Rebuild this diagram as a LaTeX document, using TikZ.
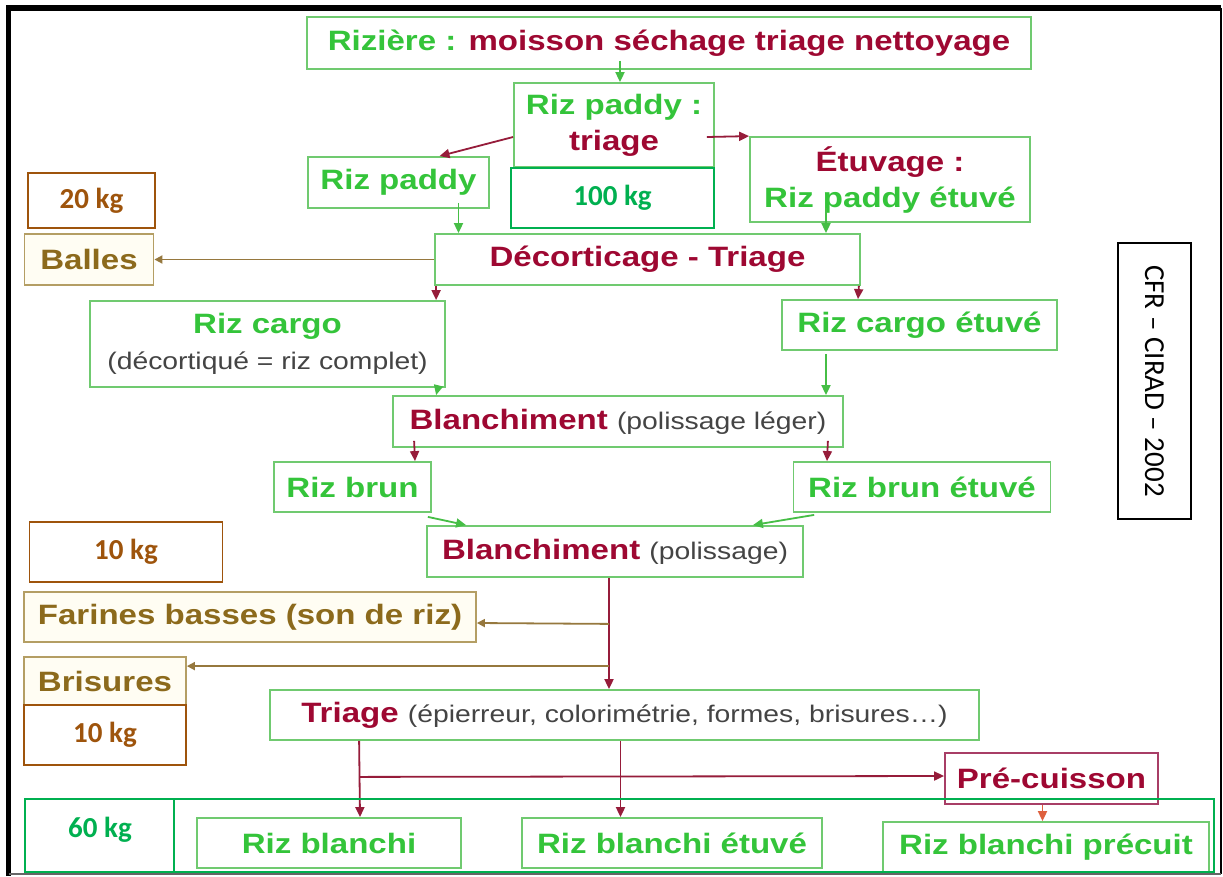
\documentclass[tikz,border=0pt]{standalone}
\usepackage{fontspec}
\setmainfont{Liberation Sans}
\newfontfamily\arw{Liberation Sans}[FakeStretch=1.18]
\newfontfamily\calb{Carlito}
\usetikzlibrary{arrows.meta,calc}

% palette
\definecolor{gT}{RGB}{52,196,58}
\definecolor{dR}{RGB}{158,8,50}
\definecolor{grT}{RGB}{68,68,68}
\definecolor{olT}{RGB}{140,106,28}
\definecolor{boxG}{RGB}{112,202,112}
\definecolor{boxO}{RGB}{180,158,100}
\definecolor{boxP}{RGB}{168,62,102}
\definecolor{kgB}{RGB}{158,84,12}
\definecolor{kgG}{RGB}{0,176,80}
\definecolor{arG}{RGB}{70,190,70}
\definecolor{arR}{RGB}{150,28,58}
\definecolor{arB}{RGB}{150,120,62}
\definecolor{arO}{RGB}{222,96,62}
\definecolor{fillO}{RGB}{255,253,243}

\newcommand\bigfont{\arw\bfseries\fontsize{28}{36}\selectfont}
\newcommand\smallgray[1]{{\arw\mdseries\fontsize{24}{30}\selectfont\color{grT}#1}}

\begin{document}
\begin{tikzpicture}[x=1pt,y=-1pt,
  sz/.style 2 args={minimum width=#1pt, minimum height=#2pt},
  box/.style={draw=boxG, line width=1.8pt, fill=white, inner sep=0pt,
    rectangle, align=center, font=\bigfont, text=gT},
  rbox/.style={box, text=dR},
  obox/.style={box, draw=boxO, fill=fillO, text=olT},
  pbox/.style={box, draw=boxP, text=dR},
  kgbox/.style={draw=kgB, line width=1.8pt, fill=white, inner sep=0pt,
    rectangle, text=kgB, font=\calb\bfseries\fontsize{29}{30}\selectfont},
  kggbox/.style={kgbox, draw=kgG, text=kgG},
  arr/.style={line width=1.8pt, -{Triangle[length=10pt,width=9pt]}},
  garr/.style={arr, draw=arG},
  rarr/.style={arr, draw=arR},
  barr/.style={arr, draw=arB, -{Triangle[length=8pt,width=8pt]}},
  oarr/.style={arr, draw=arO}
]
\useasboundingbox (0,0) rectangle (1223,876);
\fill[white] (0,0) rectangle (1223,876);

% outer frame
\draw[line width=5.5pt] (8.5,876) -- (8.5,8) -- (1221,8);
\draw[line width=2pt] (1220.5,8) -- (1220.5,874);
\draw[line width=2pt, black!60] (8.5,874) -- (1221,874);

% process boxes
\node[rbox, sz={724}{52}] (riziere) at (669,43)
  {{\color{gT}Rizière :} moisson séchage triage nettoyage};
\node[rbox, sz={200}{84}] (paddyT) at (614,125)
  {{\color{gT}Riz paddy :}\\triage};
\node[kggbox, sz={203}{60}] (kg100) at (612.5,198) {100 kg};
\node[box, sz={181}{51}] (paddy) at (398.5,182.5) {Riz paddy};
\node[rbox, sz={280}{85}] (etuvage) at (890,179.5)
  {Étuvage :\\{\color{gT}Riz paddy étuvé}};
\node[kgbox, sz={127}{55}] (kg20) at (91.5,200.5) {20 kg};
\node[obox, sz={129}{51}] (balles) at (89,259.5) {Balles};
\node[rbox, sz={425}{51}] (decort) at (647.5,259.5) {Décorticage - Triage};
\node[box, sz={355}{86}] (cargo) at (267.5,344)
  {Riz cargo\\\smallgray{(décortiqué = riz complet)}};
\node[box, sz={275}{50}] (cargoEt) at (919.5,325) {Riz cargo étuvé};
\node[rbox, sz={450}{51}] (blanchA) at (618,421.5)
  {Blanchiment \smallgray{(polissage léger)}};
\node[box, sz={157}{50}] (brun) at (352.5,487) {Riz brun};
\node[box, sz={257}{50}] (brunEt) at (922,487) {Riz brun étuvé};
\node[kgbox, sz={193}{60}] (kg10a) at (126,552) {10 kg};
\node[rbox, sz={376}{51}] (blanchB) at (615,551.5)
  {Blanchiment \smallgray{(polissage)}};
\node[obox, sz={452}{50}] (farines) at (250,617) {Farines basses (son de riz)};
\node[obox, sz={162}{48}] (brisures) at (105,681) {Brisures};
\node[kgbox, sz={162}{60}] (kg10b) at (105,735) {10 kg};
\node[rbox, sz={709}{50}] (triage) at (624.5,715)
  {Triage \smallgray{(épierreur, colorimétrie, formes, brisures…)}};
\node[pbox, sz={213}{51}] (precuis) at (1051.5,778.5) {Pré-cuisson};
\node[box, sz={264}{50}] (blanchi) at (329,843) {Riz blanchi};
\node[box, sz={300}{50}] (blanchiEt) at (672,843) {Riz blanchi étuvé};
\node[box, sz={326}{50}] (precuit) at (1046,847) {Riz blanchi précuit};

% source label
\node[draw=black, line width=1.6pt, inner sep=0pt, sz={73}{276}] (cfr) at (1154.5,381) {};
\node[rotate=-90, font=\calb\fontsize{29}{30}\selectfont] (cfrtxt) at (cfr.center) {CFR – CIRAD – 2002};

% connectors
\draw[garr] ([xshift=-49pt,yshift=9pt]riziere.south) -- ([xshift=6pt]paddyT.north);
\draw[rarr] ([yshift=-12pt]paddyT.west) -- ([xshift=41pt]paddy.north);
\draw[rarr] ([xshift=-8pt,yshift=-12pt]paddyT.east) -- (etuvage.north west);
\draw[garr] ([xshift=60pt,yshift=6pt]paddy.south) -- ([xshift=-189pt]decort.north);
\draw[garr] ([xshift=-64pt,yshift=15pt]etuvage.south) -- ([xshift=178.5pt]decort.north);
\draw[barr] (decort.west) -- (balles.east);
\draw[rarr] ([xshift=2pt]decort.south west) -- ([xshift=347pt]cargo.north west);
\draw[rarr] ([xshift=-2pt]decort.south east) -- ([xshift=-61.5pt]cargoEt.north);
\draw[garr] ([xshift=-8pt]cargo.south east) -- ([xshift=44pt]blanchA.north west);
\draw[garr] ([xshift=-93.5pt,yshift=-3pt]cargoEt.south) -- ([xshift=208pt]blanchA.north);
\draw[rarr] ([xshift=22pt,yshift=7pt]blanchA.south west) -- ([xshift=62.5pt]brun.north);
\draw[rarr] ([xshift=-16pt,yshift=7pt]blanchA.south east) -- ([xshift=-95pt]brunEt.north);
\draw[garr] ([xshift=-4pt,yshift=-4pt]brun.south east) -- ([xshift=40pt]blanchB.north west);
\draw[garr] ([xshift=21.5pt,yshift=-2pt]brunEt.south west) -- ([xshift=-51pt]blanchB.north east);
\draw[rarr] ([xshift=-6pt]blanchB.south) -- ([xshift=-15.5pt]triage.north);
\draw[barr] ([xshift=-6pt,yshift=-46pt]blanchB.south) -- ([yshift=-6pt]farines.east);
\draw[barr] ([xshift=-15.5pt,yshift=23pt]triage.north) -- ([yshift=-10pt]brisures.north east);
\draw[rarr] ([xshift=90pt]triage.south west) -- ([xshift=31pt]blanchi.north);
\draw[rarr] ([xshift=90pt,yshift=-36pt]triage.south west) -- ([yshift=2.5pt]precuis.west);
\draw[rarr] ([xshift=-4pt]triage.south) -- ([xshift=-51.5pt]blanchiEt.north);
\draw[oarr] ([xshift=-9pt]precuis.south) -- ([xshift=-3.5pt]precuit.north);

% output band with its yield
\node[draw=kgG, line width=2pt, inner sep=0pt, sz={1189}{73}] (band) at (619.5,835.5) {};
\draw[draw=kgG, line width=2pt] ([xshift=150pt]band.north west) -- ([xshift=150pt]band.south west);
\node[text=kgG, font=\calb\bfseries\fontsize{29}{30}\selectfont] (kg60) at (100,830) {60 kg};
\end{tikzpicture}
\end{document}
